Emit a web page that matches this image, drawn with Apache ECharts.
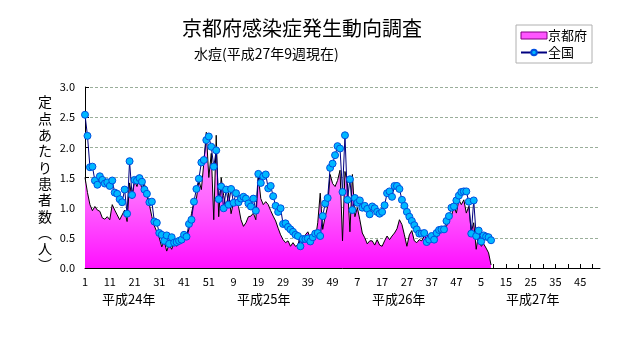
<!DOCTYPE html>
<html><head><meta charset="utf-8">
<script src="https://cdn.jsdelivr.net/npm/echarts@6/dist/echarts.min.js"></script>
<style>html,body{margin:0;padding:0;background:#fff}#c{width:631px;height:347px}</style>
</head><body><div id="c"></div>
<script>
// Week counts per year (平成24〜27年)
const yearWeeks = [52, 52, 52, 53];
const yearLabels = ['平成24年', '平成25年', '平成26年', '平成27年'];
const yTicks = ['0.0', '0.5', '1.0', '1.5', '2.0', '2.5', '3.0'];

// 京都府 (定点あたり)
const kyoto = [
1.50,1.25,1.05,0.95,1.02,0.96,0.94,0.83,0.81,0.85,
0.80,1.05,0.96,0.88,0.80,0.88,0.96,0.77,1.41,1.15,
1.45,1.35,1.50,1.30,1.40,1.20,1.05,0.85,0.70,0.60,
0.50,0.35,0.45,0.28,0.39,0.31,0.42,0.36,0.43,0.41,
0.48,0.50,0.65,0.90,1.10,1.15,1.45,1.30,1.75,2.25,
1.50,1.90,0.80,2.20,0.85,1.50,1.20,1.00,1.25,0.90,
1.10,1.13,1.02,0.80,0.69,0.75,0.85,0.86,0.91,0.80,
1.52,1.15,1.05,1.10,1.05,0.95,0.86,0.78,0.66,0.55,
0.47,0.42,0.45,0.36,0.42,0.36,0.38,0.53,0.42,0.55,
0.60,0.50,0.53,0.47,0.75,1.24,0.64,0.85,1.02,1.55,
1.40,1.35,1.45,1.62,0.45,1.60,1.40,0.60,1.55,0.85,
1.00,0.80,0.58,0.50,0.40,0.45,0.45,0.38,0.47,0.38,
0.36,0.45,0.53,0.47,0.53,0.58,0.65,0.80,0.72,0.55,
0.36,0.55,0.62,0.45,0.42,0.47,0.45,0.53,0.55,0.50,
0.53,0.58,0.50,0.58,0.60,0.67,0.69,0.80,0.86,1.02,
0.91,1.13,1.05,1.13,0.91,1.02,0.60,0.75,0.31,0.58,
0.36,0.40,0.33,0.25,0.05
];

// 全国 (定点あたり)
const zenkoku = [
2.54,2.19,1.67,1.68,1.45,1.38,1.52,1.46,1.40,1.42,
1.36,1.45,1.25,1.23,1.14,1.09,1.30,0.90,1.77,1.21,
1.46,1.45,1.49,1.43,1.30,1.23,1.09,1.10,0.77,0.75,
0.58,0.55,0.45,0.54,0.40,0.51,0.42,0.43,0.45,0.47,
0.55,0.52,0.73,0.80,1.10,1.31,1.48,1.75,1.79,2.12,
2.18,2.01,1.68,1.95,1.14,1.35,0.99,1.30,1.05,1.31,
1.08,1.24,1.09,1.15,1.18,1.15,1.07,1.02,1.15,0.95,
1.56,1.41,1.52,1.55,1.32,1.36,1.19,1.03,0.93,0.99,
0.73,0.74,0.68,0.64,0.60,0.55,0.53,0.36,0.48,0.48,
0.49,0.44,0.51,0.57,0.58,0.53,0.86,1.07,1.16,1.66,
1.73,1.87,2.02,1.98,1.26,2.20,1.13,1.47,0.96,1.16,
1.08,1.12,1.00,1.03,0.98,0.89,1.02,0.99,0.93,0.90,
0.93,1.04,1.24,1.27,1.18,1.36,1.36,1.31,1.13,1.03,
0.93,0.85,0.78,0.71,0.64,0.57,0.57,0.58,0.43,0.47,
0.53,0.47,0.58,0.63,0.64,0.64,0.78,0.86,1.00,1.02,
1.12,1.20,1.26,1.27,1.27,1.10,0.57,1.12,0.53,0.62,
0.44,0.54,0.52,0.51,0.46
];

const categories = [];
yearWeeks.forEach(n => { for (let w = 1; w <= n; w++) categories.push(String(w)); });

const FONT = '"Noto Sans CJK JP", sans-serif';
const chart = echarts.init(document.getElementById('c'), null, {renderer: 'canvas'});
const yearPos = [128, 263, 398, 532];
chart.setOption({
  animation: false,
  backgroundColor: '#fff',
  textStyle: {fontFamily: FONT},
  title: [
    {text: '京都府感染症発生動向調査', left: 177, top: 13,
     textStyle: {fontSize: 20, fontWeight: 'normal', color: '#000', fontFamily: FONT}},
    {text: '水痘(平成27年9週現在)', left: 189, top: 42,
     textStyle: {fontSize: 14, fontWeight: 'normal', color: '#000', fontFamily: FONT}}
  ],
  legend: {
    orient: 'vertical', left: 516, top: 25,
    padding: [4, 5, 4, 4], itemGap: 4,
    borderColor: '#b0b0b0', borderWidth: 1,
    itemWidth: 26, itemHeight: 7,
    textStyle: {fontSize: 13, color: '#000', padding: [0, 0, 0, -4], fontFamily: FONT},
    data: [
      {name: '京都府', icon: 'rect', itemStyle: {color: '#ff55ff', borderColor: '#800080', borderWidth: 1}},
      {name: '全国'}
    ]
  },
  grid: {left: 85, right: 31, top: 87, bottom: 79},
  xAxis: {
    type: 'category', data: categories, boundaryGap: false,
    axisLine: {lineStyle: {color: '#000', width: 1}},
    axisTick: {inside: true, length: 4, interval: 4, lineStyle: {color: '#000'}},
    axisLabel: {interval: 9, color: '#000', fontSize: 11, margin: 8, fontFamily: FONT},
    splitLine: {show: false}
  },
  yAxis: {
    type: 'value', min: 0, max: 3, interval: 0.5,
    axisLine: {show: true, lineStyle: {color: '#000', width: 1}},
    axisTick: {show: true, inside: true, length: 4, lineStyle: {color: '#000'}},
    axisLabel: {color: '#000', fontSize: 11, margin: 10, fontFamily: FONT,
      formatter: v => yTicks[Math.round(v * 2)]},
    splitLine: {lineStyle: {color: '#9aae9a', type: [3, 2], width: 1}}
  },
  graphic: [
    {type: 'text', left: 38, top: 94,
     style: {text: '定\n点\nあ\nた\nり\n患\n者\n数\n︵\n人\n︶', lineHeight: 16.3,
       fill: '#000', font: '14px ' + FONT}},
  ].concat(yearLabels.map((t, i) => ({
    type: 'text', left: yearPos[i] - 26, top: 293,
    style: {text: t, fill: '#000', font: '13px ' + FONT}
  }))),
  series: [
    {name: '京都府', type: 'line', data: kyoto, symbol: 'none', z: 2,
     lineStyle: {color: '#000', width: 1},
     itemStyle: {color: '#ff55ff'},
     areaStyle: {opacity: 1, color: new echarts.graphic.LinearGradient(0, 0, 0, 1, [
       {offset: 0, color: '#ff9cff'}, {offset: 0.5, color: '#ff66ff'}, {offset: 1, color: '#ff10ff'}])}
    },
    {name: '全国', type: 'line', data: zenkoku, symbol: 'circle', symbolSize: 7, z: 3,
     showAllSymbol: true,
     lineStyle: {color: '#000080', width: 1},
     itemStyle: {color: '#00b8ff', borderColor: '#0050e0', borderWidth: 1}
    }
  ]
});
</script></body></html>
